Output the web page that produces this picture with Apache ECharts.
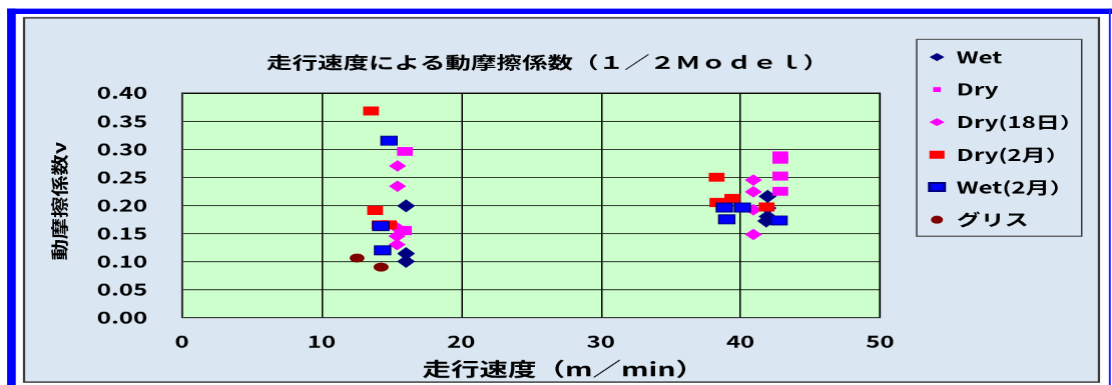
<!DOCTYPE html>
<html>
<head>
<meta charset="utf-8">
<script src="https://cdn.jsdelivr.net/npm/echarts@6/dist/echarts.min.js"></script>
<style>
  html, body { margin: 0; padding: 0; background: #fff; overflow: hidden; }
  #wrap { width: 1112px; height: 385px; overflow: hidden; }
  /* the chart is laid out narrow and widened, giving the broad lettering and flat markers */
  #chart { width: 740px; height: 385px; transform: scaleX(1.502703); transform-origin: 0 0; }
</style>
</head>
<body>
<div id="wrap"><div id="chart"></div></div>
<script>
// 走行速度 [m/min] と 動摩擦係数 ν
const seriesNames = ['Wet', 'Dry', 'Dry(18日）', 'Dry(2月）', 'Wet(2月）', 'グリス'];

const wet    = [[16.05, 0.199], [16.05, 0.114], [16.05, 0.100],
                [41.95, 0.216], [41.95, 0.195], [41.95, 0.180], [41.85, 0.172]];
const dry    = [[15.97, 0.296], [15.90, 0.155],
                [42.86, 0.288], [42.86, 0.282], [42.86, 0.252], [42.86, 0.225]];
const dry18  = [[15.44, 0.270], [15.44, 0.234], [15.40, 0.160], [15.40, 0.145], [15.40, 0.130],
                [40.93, 0.245], [40.93, 0.224], [40.93, 0.192], [40.93, 0.148]];
const dryFeb = [[13.54, 0.368], [13.83, 0.191], [14.15, 0.165], [14.82, 0.165],
                [38.30, 0.250], [39.42, 0.212], [38.35, 0.205], [41.88, 0.197]];
const wetFeb = [[14.83, 0.315], [14.24, 0.163], [14.37, 0.120],
                [38.85, 0.196], [40.14, 0.196], [39.02, 0.175], [42.77, 0.173]];
const grease = [[12.54, 0.106], [14.26, 0.090]];

const xRange = { min: 0, max: 50, step: 10 };
const yRange = { min: 0, max: 0.40, step: 0.05 };

const titleText = '走行速度による動摩擦係数（１／２Ｍｏｄｅｌ）';
const xName = '走行速度（m／min）';
const yName = '動摩擦係数ν';

const FONT = '"Noto Sans CJK JP", "Noto Sans", sans-serif';

const chart = echarts.init(document.getElementById('chart'), null, { renderer: 'canvas', devicePixelRatio: 1.5 });

function scatter(name, data, symbol, size, itemStyle) {
  return {
    name, type: 'scatter', data, symbol, symbolSize: size, silent: true,
    itemStyle: Object.assign({ opacity: 1 }, itemStyle)
  };
}

const legendIcons = {
  'Wet': 'diamond',
  'Dry': 'path://M0,0M10,8M2.5,1.5H7.5V6.5H2.5Z',
  'Dry(18日）': 'diamond',
  'Dry(2月）': 'rect',
  'Wet(2月）': 'rect',
  'グリス': 'circle'
};

chart.setOption({
  animation: false,
  backgroundColor: '#ffffff',
  graphic: [
    // frame: blue bands, inner panel
    { type: 'rect', z: -100, silent: true, shape: { x: 4.7, y: 8.5, width: 736, height: 5.5 }, style: { fill: '#0000ff' } },
    { type: 'rect', z: -100, silent: true, shape: { x: 4.7, y: 8.5, width: 5.8, height: 380 }, style: { fill: '#0000ff' } },
    { type: 'rect', z: -100, silent: true, shape: { x: 737.9, y: 8.5, width: 1.3, height: 380 }, style: { fill: '#2020ff' } },
    { type: 'rect', z: -99, silent: true, shape: { x: 16, y: 17.8, width: 715.3, height: 364 },
      style: { fill: '#dae6f2', stroke: '#3a3a3a', lineWidth: 1.5 } },
    // legend box
    { type: 'rect', z: 50, silent: true, shape: { x: 610, y: 39.3, width: 109.8, height: 196.7 },
      style: { fill: 'transparent', stroke: '#3a3a3a', lineWidth: 1 } },
    // title
    { type: 'text', z: 100, silent: true, x: 364.3, y: 62,
      style: { text: titleText, font: 'bold 17px ' + FONT, fill: '#000', align: 'center', verticalAlign: 'middle',
               textAlign: 'center', textVerticalAlign: 'middle' } },
    // y axis name, compressed across the line of text
    { type: 'text', z: 100, silent: true, x: 39.3, y: 201, rotation: Math.PI / 2, scaleX: 1.18, scaleY: 0.65,
      style: { text: yName, font: 'bold 18px ' + FONT, fill: '#000', align: 'center', verticalAlign: 'middle',
               textAlign: 'center', textVerticalAlign: 'middle' } }
  ],
  grid: {
    left: 121.1, right: 154.4, top: 92.9, bottom: 67.7,
    show: true, backgroundColor: '#ccffcc', borderColor: '#404040', borderWidth: 1
  },
  legend: {
    orient: 'vertical', left: 617.5, top: 49, padding: 0, itemGap: 16.5,
    itemWidth: 10, itemHeight: 8,
    textStyle: { fontFamily: FONT, fontSize: 16, fontWeight: 'bold', color: '#000', padding: [0, 0, 0, 3] },
    selectedMode: false,
    data: seriesNames.map(n => ({ name: n, icon: legendIcons[n] }))
  },
  xAxis: {
    type: 'value', min: xRange.min, max: xRange.max, interval: xRange.step,
    name: xName, nameLocation: 'middle', nameGap: 42,
    nameTextStyle: { fontFamily: FONT, fontSize: 19, fontWeight: 'bold', color: '#000', padding: [0, 0, 0, 43] },
    axisLine: { show: true, lineStyle: { color: '#404040', width: 1 } },
    axisTick: { show: false },
    axisLabel: { margin: 16, fontFamily: FONT, fontSize: 16, fontWeight: 'bold', color: '#000' },
    splitLine: { show: true, lineStyle: { color: '#000', width: 1 } }
  },
  yAxis: {
    type: 'value', min: yRange.min, max: yRange.max, interval: yRange.step,
    axisLine: { show: true, lineStyle: { color: '#404040', width: 1 } },
    axisTick: { show: false },
    axisLabel: { margin: 23, fontFamily: FONT, fontSize: 16, fontWeight: 'bold', color: '#000',
                 formatter: v => v.toFixed(2) },
    splitLine: { show: true, lineStyle: { color: '#000', width: 1 } }
  },
  series: [
    scatter('Wet', wet, 'diamond', [12, 13], { color: '#000080' }),
    scatter('Dry', dry, 'rect', [10.5, 9], { color: '#ff00ff' }),
    scatter('Dry(18日）', dry18, 'diamond', [11.5, 11.5], { color: '#ff00ff' }),
    scatter('Dry(2月）', dryFeb, 'rect', [10.5, 9], { color: '#ff0000' }),
    scatter('Wet(2月）', wetFeb, 'rect', [10.5, 9], { color: '#0000ff', borderColor: '#000080', borderWidth: 1 }),
    scatter('グリス', grease, 'circle', [10, 9], { color: '#800000' })
  ]
});
</script>
</body>
</html>
